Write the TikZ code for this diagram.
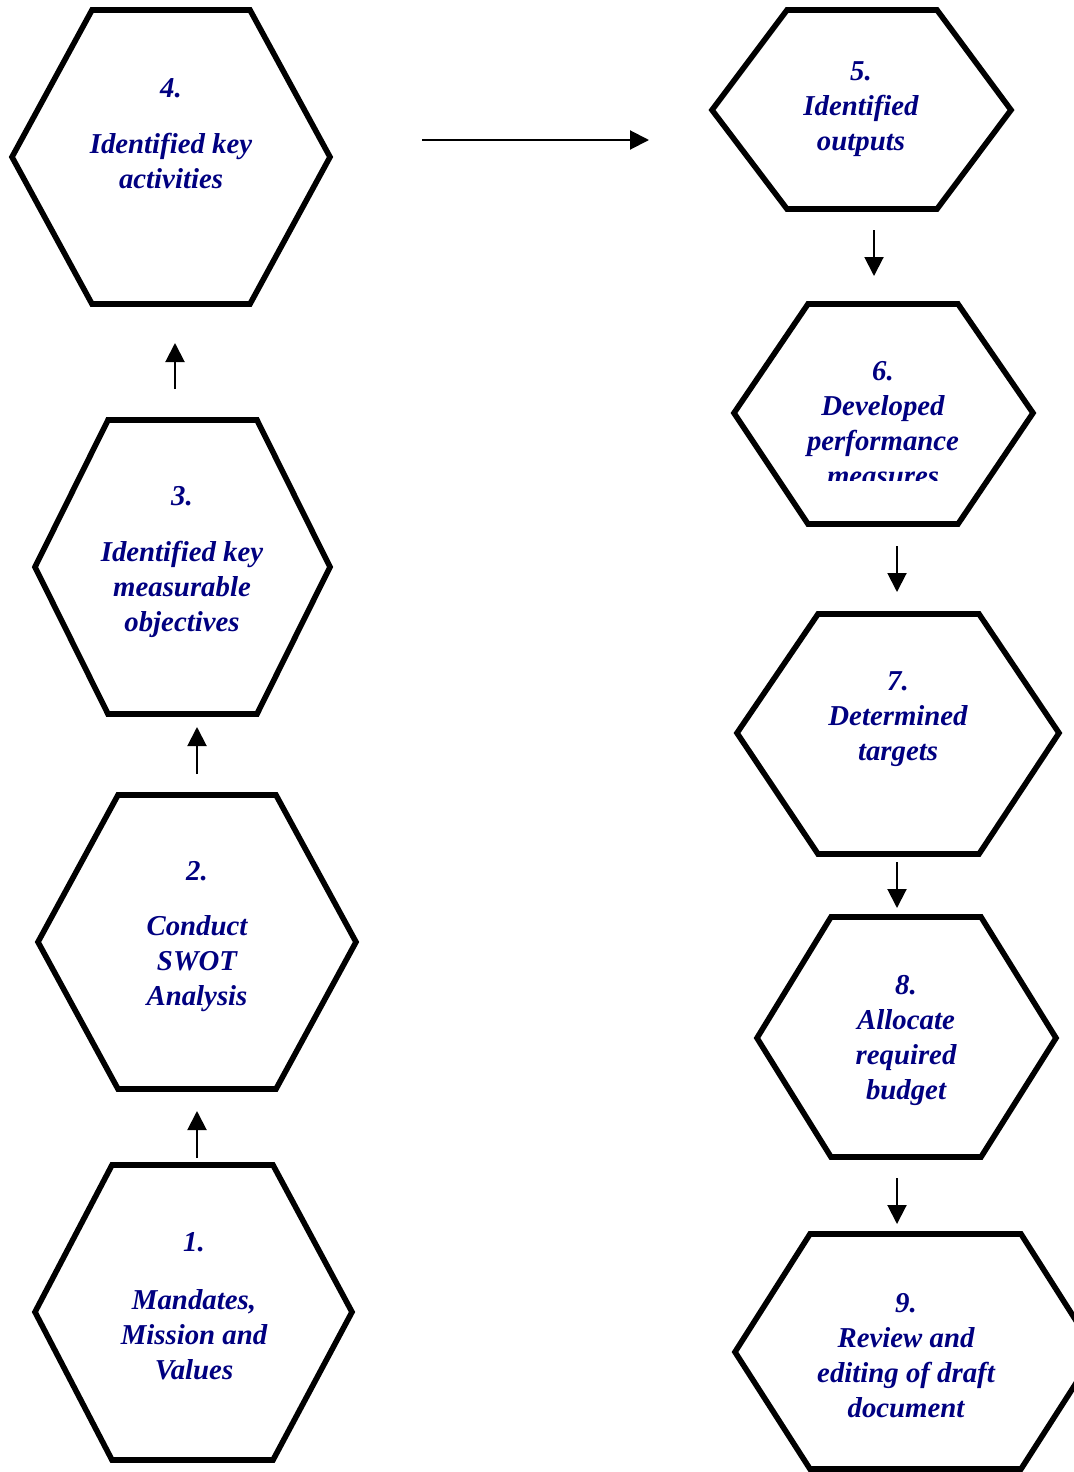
\documentclass[tikz,border=0pt]{standalone}
\usepackage{fontspec}
\setmainfont{Liberation Serif}
\usetikzlibrary{arrows.meta}
\definecolor{txtblue}{RGB}{0,0,128}
\begin{document}
\begin{tikzpicture}[x=0.5pt,y=-0.5pt,
  hexline/.style={line width=2.8pt,line join=miter},
  lbl/.style={text=txtblue,font=\fontsize{14.4pt}{17.5pt}\selectfont\bfseries\itshape,align=center,inner sep=0pt},
  arr/.style={line width=1pt,-{Triangle[length=9.5pt,width=9.5pt]}}]
\useasboundingbox (0,0) rectangle (1074,1472);
\begin{scope}
\clip (0,0) rectangle (1074,1472);
% hexagons
\draw[hexline] (12,157) -- (92,10) -- (250,10) -- (330,157) -- (250,304) -- (92,304) -- cycle;
\draw[hexline] (35,567) -- (108,420) -- (257,420) -- (330,567) -- (257,714) -- (108,714) -- cycle;
\draw[hexline] (38,942) -- (118,795) -- (276,795) -- (356,942) -- (276,1089) -- (118,1089) -- cycle;
\draw[hexline] (35,1312) -- (112,1165) -- (273,1165) -- (352,1312) -- (273,1460) -- (112,1460) -- cycle;
\draw[hexline] (712,110) -- (787,10) -- (937,10) -- (1011,110) -- (937,209) -- (787,209) -- cycle;
\draw[hexline] (734,413) -- (808,304) -- (958,304) -- (1033,413) -- (958,524) -- (808,524) -- cycle;
\draw[hexline] (737,733) -- (818,614) -- (979,614) -- (1059,733) -- (979,854) -- (818,854) -- cycle;
\draw[hexline] (757,1038) -- (831,917) -- (981,917) -- (1056,1038) -- (981,1157) -- (831,1157) -- cycle;
\draw[hexline] (735,1352) -- (810,1234) -- (1021,1234) -- (1096,1352) -- (1021,1469) -- (810,1469) -- cycle;
\end{scope}
% texts
\node[lbl] (n4) at (171,88) {4.};
\node[lbl] (h4) at (171,161) {Identified key\\activities};
\node[lbl] (h5) at (861,109) {5.\\Identified\\outputs};
\begin{scope}
\clip (740,330) rectangle (1030,480);
\node[lbl] (h6) at (883,424) {6.\\Developed\\performance\\measures};
\end{scope}
\node[lbl] (h7) at (898,719.5) {7.\\Determined\\targets};
\node[lbl] (h8) at (906,1040.5) {8.\\Allocate\\required\\budget};
\node[lbl] (h9) at (906,1355.5) {9.\\Review and\\editing of draft\\document};
\node[lbl] (n3) at (182,496) {3.};
\node[lbl] (h3) at (182,589.5) {Identified key\\measurable\\objectives};
\node[lbl] (n2) at (197,871) {2.};
\node[lbl] (h2) at (197,964) {Conduct\\SWOT\\Analysis};
\node[lbl] (n1) at (194,1242) {1.};
\node[lbl] (h1) at (194,1335) {Mandates,\\Mission and\\Values};
% arrow end points
\coordinate (a45s) at (422,140); \coordinate (a45e) at (649,140);
\coordinate (a56s) at (874,230); \coordinate (a56e) at (874,276);
\coordinate (a67s) at (897,546); \coordinate (a67e) at (897,592);
\coordinate (a78s) at (897,862); \coordinate (a78e) at (897,908);
\coordinate (a89s) at (897,1178); \coordinate (a89e) at (897,1224);
\coordinate (a12s) at (197,1158); \coordinate (a12e) at (197,1111);
\coordinate (a23s) at (197,774); \coordinate (a23e) at (197,727);
\coordinate (a34s) at (175,389); \coordinate (a34e) at (175,343);
\draw[arr] (a45s) -- (a45e);
\draw[arr] (a56s) -- (a56e);
\draw[arr] (a67s) -- (a67e);
\draw[arr] (a78s) -- (a78e);
\draw[arr] (a89s) -- (a89e);
\draw[arr] (a12s) -- (a12e);
\draw[arr] (a23s) -- (a23e);
\draw[arr] (a34s) -- (a34e);
\end{tikzpicture}
\end{document}
